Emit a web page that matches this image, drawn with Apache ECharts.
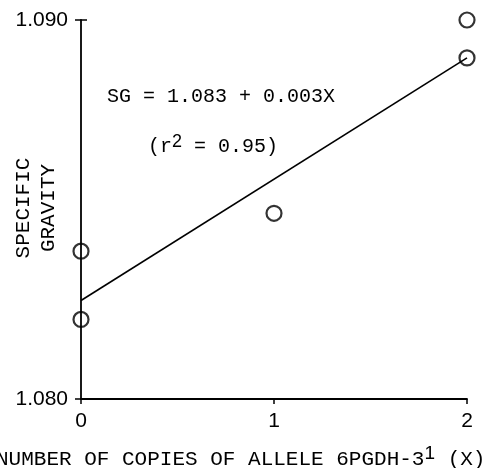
<!DOCTYPE html>
<html>
<head>
<meta charset="utf-8">
<script src="https://cdn.jsdelivr.net/npm/echarts@6/dist/echarts.min.js"></script>
<style>
  html, body { margin: 0; padding: 0; background: #fff; }
  #chart { width: 486px; height: 468px; }
</style>
</head>
<body>
<div id="chart"></div>
<script>
// copies of allele (x) vs specific gravity (y)
var copies = [0, 0, 1, 2, 2];
var gravity = [1.0839, 1.0821, 1.0849, 1.0900, 1.0890];
// fitted line SG = 1.083 + 0.003X, as drawn
var fitX = [0, 2];
var fitY = [1.0826, 1.0890];
var xTicks = [0, 1, 2];
var yTicks = [1.080, 1.090];

var mono = 'Liberation Mono';
var sans = 'Liberation Sans';

var myChart = echarts.init(document.getElementById('chart'));

var points = copies.map(function (c, i) { return [c, gravity[i]]; });
var fit = fitX.map(function (x, i) { return [x, fitY[i]]; });

option = {
    animation: false,
    grid: { left: 81, right: 19, top: 20, bottom: 69 },
    xAxis: {
        type: 'value',
        min: xTicks[0],
        max: xTicks[xTicks.length - 1],
        interval: 1,
        splitLine: { show: false },
        axisLine: { lineStyle: { color: '#000', width: 1.8 } },
        axisTick: { length: 5, lineStyle: { color: '#000', width: 1.5 } },
        axisLabel: { color: '#000', fontFamily: sans, fontSize: 21, margin: 12 }
    },
    yAxis: [
        {
            type: 'value',
            min: yTicks[0],
            max: yTicks[1],
            interval: 0.01,
            splitLine: { show: false },
            axisLine: { show: true, lineStyle: { color: '#000', width: 1.8 } },
            axisTick: { show: true, length: 6, lineStyle: { color: '#000', width: 1.5 } },
            axisLabel: {
                color: '#000', fontFamily: sans, fontSize: 21, margin: 13,
                formatter: function (v) { return v.toFixed(3); }
            }
        },
        {
            type: 'value',
            position: 'left',
            min: yTicks[0],
            max: yTicks[1],
            interval: 0.01,
            splitLine: { show: false },
            axisLine: { show: false },
            axisTick: { show: true, inside: true, length: 6, lineStyle: { color: '#000', width: 1.5 } },
            axisLabel: { show: false }
        }
    ],
    series: [
        {
            type: 'line',
            data: fit,
            showSymbol: false,
            lineStyle: { color: '#000', width: 1.6 },
            z: 2
        },
        {
            type: 'scatter',
            data: points,
            symbol: 'circle',
            symbolSize: 15,
            itemStyle: { color: 'rgba(0,0,0,0)', borderColor: '#000', borderWidth: 2.2 },
            z: 3
        }
    ],
    graphic: [
        {
            type: 'text',
            x: 107, y: 97,
            style: {
                text: 'SG = 1.083 + 0.003X',
                font: '20px "' + mono + '"',
                fill: '#000',
                verticalAlign: 'middle'
            }
        },
        {
            type: 'text',
            x: 148, y: 147,
            style: {
                text: '{a|(r}{s|2}{a| = 0.95)}',
                fill: '#000',
                verticalAlign: 'middle',
                rich: {
                    a: { fontFamily: mono, fontSize: 20, color: '#000' },
                    s: { fontFamily: sans, fontSize: 18, color: '#000', padding: [0, 0, 10, 0] }
                }
            }
        },
        {
            type: 'text',
            x: 36, y: 208,
            rotation: Math.PI / 2,
            style: {
                text: 'SPECIFIC\nGRAVITY',
                font: '21px "' + mono + '"',
                lineHeight: 25,
                fill: '#000',
                align: 'center',
                verticalAlign: 'middle'
            }
        },
        {
            type: 'text',
            x: -4, y: 459,
            style: {
                text: '{a|NUMBER OF COPIES OF ALLELE 6PGDH-3}{s|1}{a| (X)}',
                fill: '#000',
                verticalAlign: 'middle',
                rich: {
                    a: { fontFamily: mono, fontSize: 21, color: '#000' },
                    s: { fontFamily: sans, fontSize: 19, color: '#000', padding: [0, 0, 10, 0] }
                }
            }
        }
    ]
};
myChart.setOption(option);
</script>
</body>
</html>
